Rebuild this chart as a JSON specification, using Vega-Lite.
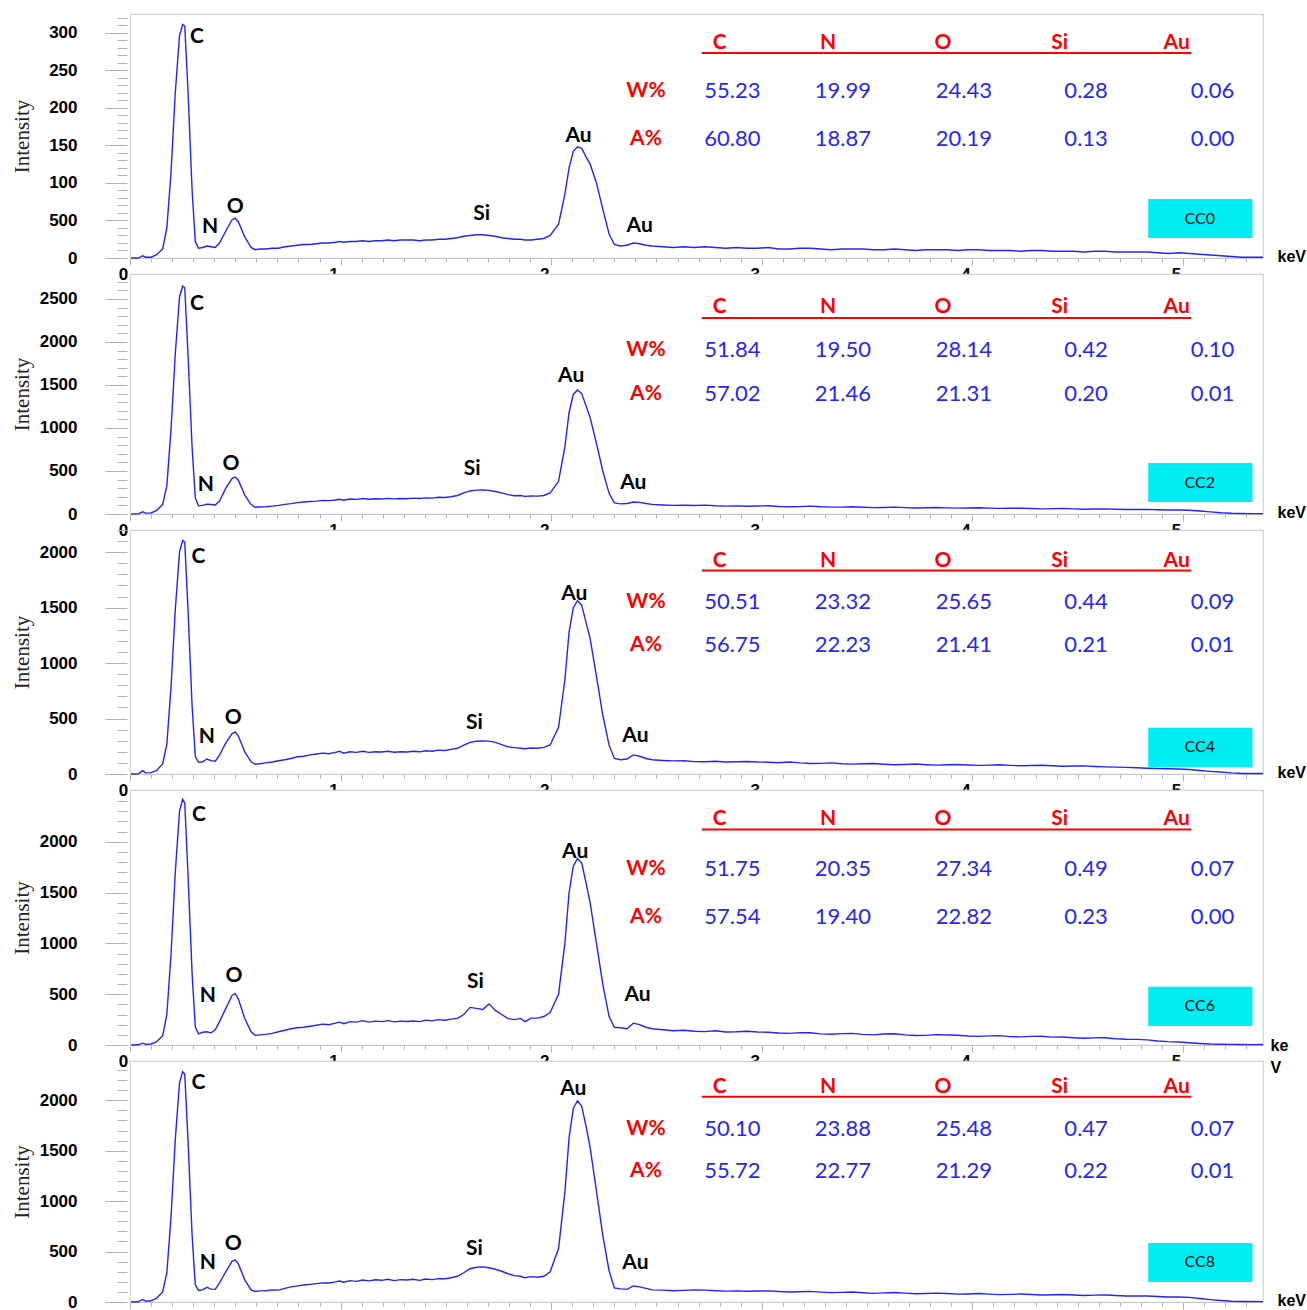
{
"$schema":"https://vega.github.io/schema/vega-lite/v6.json",
"background":"white",
"padding":{"left":10,"top":8,"right":0,"bottom":0},
"spacing":16,
"bounds":"flush",
"config":{"view":{"stroke":"#d2d2d2","strokeWidth":1.2,"fill":"white"},"axis":{"grid":false}},
"datasets":{
"spec":[
{"e":0.005,"cc0":0,"cc2":0,"cc4":0,"cc6":0,"cc8":0},
{"e":0.04,"cc0":0,"cc2":2,"cc4":2,"cc6":2,"cc8":2},
{"e":0.06,"cc0":3,"cc2":25,"cc4":30,"cc6":18,"cc8":25},
{"e":0.075,"cc0":1,"cc2":10,"cc4":10,"cc6":8,"cc8":8},
{"e":0.1,"cc0":1,"cc2":12,"cc4":12,"cc6":10,"cc8":12},
{"e":0.125,"cc0":4,"cc2":40,"cc4":30,"cc6":30,"cc8":35},
{"e":0.155,"cc0":12,"cc2":110,"cc4":90,"cc6":90,"cc8":100},
{"e":0.175,"cc0":40,"cc2":330,"cc4":270,"cc6":300,"cc8":290},
{"e":0.195,"cc0":115,"cc2":990,"cc4":790,"cc6":900,"cc8":850},
{"e":0.215,"cc0":220,"cc2":1860,"cc4":1480,"cc6":1700,"cc8":1610},
{"e":0.235,"cc0":296,"cc2":2520,"cc4":2000,"cc6":2300,"cc8":2170},
{"e":0.25,"cc0":311,"cc2":2651,"cc4":2105,"cc6":2420,"cc8":2284},
{"e":0.26,"cc0":309,"cc2":2630,"cc4":2090,"cc6":2380,"cc8":2260},
{"e":0.275,"cc0":225,"cc2":1880,"cc4":1500,"cc6":1700,"cc8":1620},
{"e":0.295,"cc0":90,"cc2":770,"cc4":610,"cc6":700,"cc8":660},
{"e":0.31,"cc0":22,"cc2":190,"cc4":160,"cc6":180,"cc8":170},
{"e":0.325,"cc0":13,"cc2":95,"cc4":105,"cc6":110,"cc8":115},
{"e":0.345,"cc0":14,"cc2":100,"cc4":110,"cc6":125,"cc8":120},
{"e":0.365,"cc0":16,"cc2":115,"cc4":135,"cc6":130,"cc8":145},
{"e":0.385,"cc0":15,"cc2":110,"cc4":120,"cc6":120,"cc8":128},
{"e":0.405,"cc0":14,"cc2":105,"cc4":115,"cc6":150,"cc8":125},
{"e":0.425,"cc0":20,"cc2":150,"cc4":170,"cc6":230,"cc8":190},
{"e":0.455,"cc0":36,"cc2":300,"cc4":280,"cc6":360,"cc8":300},
{"e":0.485,"cc0":51,"cc2":415,"cc4":365,"cc6":490,"cc8":405},
{"e":0.5,"cc0":53,"cc2":430,"cc4":380,"cc6":505,"cc8":417},
{"e":0.515,"cc0":48,"cc2":390,"cc4":340,"cc6":450,"cc8":375},
{"e":0.545,"cc0":28,"cc2":220,"cc4":200,"cc6":260,"cc8":220},
{"e":0.575,"cc0":14,"cc2":110,"cc4":110,"cc6":130,"cc8":120},
{"e":0.595,"cc0":11,"cc2":78,"cc4":88,"cc6":95,"cc8":105},
{"e":0.615,"cc0":12,"cc2":82,"cc4":92,"cc6":100,"cc8":110},
{"e":0.645,"cc0":12,"cc2":85,"cc4":100,"cc6":105,"cc8":112},
{"e":0.675,"cc0":13,"cc2":92,"cc4":108,"cc6":115,"cc8":120},
{"e":0.705,"cc0":13,"cc2":100,"cc4":120,"cc6":130,"cc8":118},
{"e":0.735,"cc0":15,"cc2":112,"cc4":128,"cc6":145,"cc8":135},
{"e":0.765,"cc0":16,"cc2":120,"cc4":140,"cc6":160,"cc8":150},
{"e":0.795,"cc0":17,"cc2":132,"cc4":155,"cc6":170,"cc8":160},
{"e":0.825,"cc0":18,"cc2":140,"cc4":160,"cc6":175,"cc8":168},
{"e":0.855,"cc0":18,"cc2":145,"cc4":172,"cc6":185,"cc8":175},
{"e":0.885,"cc0":19,"cc2":150,"cc4":180,"cc6":195,"cc8":182},
{"e":0.915,"cc0":20,"cc2":158,"cc4":188,"cc6":205,"cc8":190},
{"e":0.945,"cc0":20,"cc2":155,"cc4":183,"cc6":200,"cc8":188},
{"e":0.975,"cc0":21,"cc2":163,"cc4":195,"cc6":215,"cc8":199},
{"e":0.995,"cc0":22,"cc2":172,"cc4":205,"cc6":225,"cc8":208},
{"e":1.015,"cc0":21,"cc2":160,"cc4":188,"cc6":210,"cc8":196},
{"e":1.045,"cc0":22,"cc2":175,"cc4":200,"cc6":230,"cc8":212},
{"e":1.075,"cc0":22,"cc2":170,"cc4":195,"cc6":225,"cc8":205},
{"e":1.105,"cc0":23,"cc2":180,"cc4":205,"cc6":240,"cc8":218},
{"e":1.135,"cc0":22,"cc2":172,"cc4":195,"cc6":225,"cc8":210},
{"e":1.165,"cc0":23,"cc2":178,"cc4":200,"cc6":235,"cc8":220},
{"e":1.195,"cc0":23,"cc2":175,"cc4":198,"cc6":230,"cc8":215},
{"e":1.225,"cc0":24,"cc2":182,"cc4":205,"cc6":240,"cc8":225},
{"e":1.255,"cc0":23,"cc2":176,"cc4":196,"cc6":228,"cc8":212},
{"e":1.285,"cc0":24,"cc2":180,"cc4":200,"cc6":235,"cc8":222},
{"e":1.315,"cc0":24,"cc2":178,"cc4":198,"cc6":232,"cc8":218},
{"e":1.345,"cc0":24,"cc2":185,"cc4":205,"cc6":236,"cc8":225},
{"e":1.375,"cc0":23,"cc2":180,"cc4":200,"cc6":230,"cc8":215},
{"e":1.405,"cc0":24,"cc2":188,"cc4":210,"cc6":245,"cc8":228},
{"e":1.435,"cc0":24,"cc2":185,"cc4":205,"cc6":238,"cc8":222},
{"e":1.465,"cc0":25,"cc2":195,"cc4":215,"cc6":250,"cc8":232},
{"e":1.495,"cc0":25,"cc2":192,"cc4":212,"cc6":244,"cc8":230},
{"e":1.525,"cc0":26,"cc2":200,"cc4":222,"cc6":255,"cc8":240},
{"e":1.555,"cc0":27,"cc2":215,"cc4":232,"cc6":262,"cc8":255},
{"e":1.585,"cc0":29,"cc2":245,"cc4":260,"cc6":300,"cc8":290},
{"e":1.615,"cc0":30,"cc2":268,"cc4":285,"cc6":370,"cc8":330},
{"e":1.645,"cc0":31,"cc2":278,"cc4":295,"cc6":360,"cc8":345},
{"e":1.675,"cc0":31,"cc2":279,"cc4":298,"cc6":350,"cc8":348},
{"e":1.705,"cc0":30,"cc2":275,"cc4":296,"cc6":405,"cc8":340},
{"e":1.735,"cc0":29,"cc2":262,"cc4":285,"cc6":340,"cc8":325},
{"e":1.765,"cc0":27,"cc2":245,"cc4":265,"cc6":300,"cc8":305},
{"e":1.795,"cc0":26,"cc2":225,"cc4":245,"cc6":260,"cc8":280},
{"e":1.825,"cc0":25,"cc2":212,"cc4":238,"cc6":250,"cc8":262},
{"e":1.855,"cc0":25,"cc2":215,"cc4":232,"cc6":262,"cc8":255},
{"e":1.875,"cc0":24,"cc2":205,"cc4":228,"cc6":230,"cc8":240},
{"e":1.905,"cc0":24,"cc2":210,"cc4":235,"cc6":265,"cc8":252},
{"e":1.935,"cc0":25,"cc2":208,"cc4":232,"cc6":265,"cc8":245},
{"e":1.965,"cc0":26,"cc2":215,"cc4":240,"cc6":280,"cc8":255},
{"e":1.995,"cc0":30,"cc2":245,"cc4":262,"cc6":320,"cc8":300},
{"e":2.035,"cc0":45,"cc2":380,"cc4":420,"cc6":500,"cc8":530},
{"e":2.065,"cc0":85,"cc2":780,"cc4":850,"cc6":1000,"cc8":1090},
{"e":2.085,"cc0":120,"cc2":1180,"cc4":1280,"cc6":1500,"cc8":1630},
{"e":2.105,"cc0":142,"cc2":1390,"cc4":1500,"cc6":1760,"cc8":1920},
{"e":2.125,"cc0":148,"cc2":1442,"cc4":1563,"cc6":1836,"cc8":1996},
{"e":2.145,"cc0":146,"cc2":1400,"cc4":1520,"cc6":1790,"cc8":1940},
{"e":2.165,"cc0":135,"cc2":1260,"cc4":1370,"cc6":1600,"cc8":1750},
{"e":2.185,"cc0":125,"cc2":1120,"cc4":1220,"cc6":1400,"cc8":1530},
{"e":2.215,"cc0":100,"cc2":820,"cc4":880,"cc6":1000,"cc8":1100},
{"e":2.245,"cc0":65,"cc2":500,"cc4":530,"cc6":600,"cc8":660},
{"e":2.275,"cc0":32,"cc2":240,"cc4":260,"cc6":280,"cc8":310},
{"e":2.3,"cc0":18,"cc2":130,"cc4":140,"cc6":175,"cc8":140},
{"e":2.33,"cc0":16,"cc2":118,"cc4":128,"cc6":170,"cc8":130},
{"e":2.36,"cc0":17,"cc2":122,"cc4":135,"cc6":160,"cc8":125},
{"e":2.39,"cc0":20,"cc2":140,"cc4":172,"cc6":215,"cc8":159},
{"e":2.42,"cc0":19,"cc2":135,"cc4":160,"cc6":200,"cc8":150},
{"e":2.45,"cc0":17,"cc2":122,"cc4":140,"cc6":175,"cc8":135},
{"e":2.48,"cc0":16,"cc2":112,"cc4":128,"cc6":160,"cc8":120},
{"e":2.53,"cc0":15,"cc2":105,"cc4":122,"cc6":150,"cc8":118},
{"e":2.58,"cc0":14,"cc2":100,"cc4":118,"cc6":140,"cc8":112},
{"e":2.63,"cc0":15,"cc2":102,"cc4":120,"cc6":145,"cc8":115},
{"e":2.68,"cc0":14,"cc2":98,"cc4":112,"cc6":135,"cc8":120},
{"e":2.73,"cc0":15,"cc2":103,"cc4":110,"cc6":132,"cc8":118},
{"e":2.78,"cc0":14,"cc2":96,"cc4":115,"cc6":140,"cc8":112},
{"e":2.83,"cc0":13,"cc2":92,"cc4":108,"cc6":128,"cc8":108},
{"e":2.88,"cc0":14,"cc2":95,"cc4":110,"cc6":130,"cc8":110},
{"e":2.93,"cc0":13,"cc2":90,"cc4":113,"cc6":135,"cc8":106},
{"e":2.98,"cc0":13,"cc2":93,"cc4":108,"cc6":128,"cc8":109},
{"e":3.03,"cc0":14,"cc2":96,"cc4":106,"cc6":126,"cc8":110},
{"e":3.08,"cc0":12,"cc2":88,"cc4":102,"cc6":118,"cc8":104},
{"e":3.13,"cc0":12,"cc2":84,"cc4":108,"cc6":114,"cc8":99},
{"e":3.18,"cc0":13,"cc2":86,"cc4":100,"cc6":122,"cc8":102},
{"e":3.23,"cc0":13,"cc2":91,"cc4":95,"cc6":120,"cc8":105},
{"e":3.28,"cc0":12,"cc2":84,"cc4":96,"cc6":110,"cc8":98},
{"e":3.33,"cc0":11,"cc2":80,"cc4":100,"cc6":106,"cc8":93},
{"e":3.38,"cc0":12,"cc2":80,"cc4":93,"cc6":112,"cc8":95},
{"e":3.43,"cc0":12,"cc2":84,"cc4":89,"cc6":114,"cc8":99},
{"e":3.48,"cc0":12,"cc2":78,"cc4":92,"cc6":105,"cc8":92},
{"e":3.53,"cc0":11,"cc2":74,"cc4":94,"cc6":100,"cc8":86},
{"e":3.58,"cc0":11,"cc2":76,"cc4":88,"cc6":108,"cc8":90},
{"e":3.63,"cc0":12,"cc2":80,"cc4":84,"cc6":110,"cc8":94},
{"e":3.68,"cc0":11,"cc2":74,"cc4":86,"cc6":100,"cc8":88},
{"e":3.73,"cc0":10,"cc2":70,"cc4":90,"cc6":93,"cc8":82},
{"e":3.78,"cc0":11,"cc2":72,"cc4":84,"cc6":95,"cc8":85},
{"e":3.83,"cc0":11,"cc2":76,"cc4":80,"cc6":102,"cc8":88},
{"e":3.88,"cc0":11,"cc2":71,"cc4":83,"cc6":98,"cc8":84},
{"e":3.93,"cc0":10,"cc2":68,"cc4":86,"cc6":96,"cc8":78},
{"e":3.98,"cc0":11,"cc2":70,"cc4":81,"cc6":89,"cc8":80},
{"e":4.03,"cc0":11,"cc2":73,"cc4":78,"cc6":85,"cc8":84},
{"e":4.08,"cc0":10,"cc2":68,"cc4":80,"cc6":90,"cc8":78},
{"e":4.13,"cc0":10,"cc2":65,"cc4":83,"cc6":92,"cc8":73},
{"e":4.18,"cc0":10,"cc2":66,"cc4":78,"cc6":82,"cc8":76},
{"e":4.23,"cc0":9,"cc2":68,"cc4":74,"cc6":80,"cc8":79},
{"e":4.28,"cc0":10,"cc2":64,"cc4":76,"cc6":85,"cc8":75},
{"e":4.33,"cc0":10,"cc2":60,"cc4":79,"cc6":86,"cc8":70},
{"e":4.38,"cc0":9,"cc2":62,"cc4":74,"cc6":78,"cc8":72},
{"e":4.43,"cc0":9,"cc2":65,"cc4":70,"cc6":79,"cc8":74},
{"e":4.48,"cc0":9,"cc2":60,"cc4":72,"cc6":72,"cc8":70},
{"e":4.53,"cc0":8,"cc2":56,"cc4":73,"cc6":66,"cc8":65},
{"e":4.58,"cc0":9,"cc2":58,"cc4":68,"cc6":70,"cc8":68},
{"e":4.63,"cc0":9,"cc2":60,"cc4":64,"cc6":72,"cc8":70},
{"e":4.68,"cc0":8,"cc2":56,"cc4":62,"cc6":62,"cc8":65},
{"e":4.73,"cc0":8,"cc2":52,"cc4":60,"cc6":56,"cc8":59},
{"e":4.78,"cc0":8,"cc2":53,"cc4":56,"cc6":55,"cc8":60},
{"e":4.83,"cc0":8,"cc2":54,"cc4":52,"cc6":50,"cc8":60},
{"e":4.88,"cc0":7,"cc2":50,"cc4":50,"cc6":40,"cc8":55},
{"e":4.93,"cc0":6,"cc2":47,"cc4":48,"cc6":33,"cc8":50},
{"e":4.98,"cc0":7,"cc2":47,"cc4":45,"cc6":30,"cc8":50},
{"e":5.03,"cc0":6,"cc2":44,"cc4":40,"cc6":22,"cc8":46},
{"e":5.08,"cc0":5,"cc2":35,"cc4":32,"cc6":15,"cc8":35},
{"e":5.13,"cc0":4,"cc2":25,"cc4":24,"cc6":10,"cc8":24},
{"e":5.18,"cc0":3,"cc2":15,"cc4":18,"cc6":8,"cc8":15},
{"e":5.23,"cc0":2,"cc2":8,"cc4":10,"cc6":6,"cc8":8},
{"e":5.28,"cc0":1,"cc2":5,"cc4":5,"cc6":5,"cc8":5},
{"e":5.33,"cc0":1,"cc2":4,"cc4":5,"cc6":4,"cc8":5},
{"e":5.38,"cc0":1,"cc2":4,"cc4":4,"cc6":5,"cc8":4}
],
"pk":[
{"p":"CC0","t":"C","e":0.318,"v":294},{"p":"CC0","t":"N","e":0.38,"v":41},{"p":"CC0","t":"O","e":0.5,"v":68},{"p":"CC0","t":"Si","e":1.67,"v":58},{"p":"CC0","t":"Au","e":2.13,"v":162},{"p":"CC0","t":"Au","e":2.42,"v":43},
{"p":"CC2","t":"C","e":0.318,"v":2442},{"p":"CC2","t":"N","e":0.36,"v":337},{"p":"CC2","t":"O","e":0.48,"v":581},{"p":"CC2","t":"Si","e":1.625,"v":523},{"p":"CC2","t":"Au","e":2.095,"v":1605},{"p":"CC2","t":"Au","e":2.39,"v":360},
{"p":"CC4","t":"C","e":0.325,"v":1960},{"p":"CC4","t":"N","e":0.365,"v":334},{"p":"CC4","t":"O","e":0.49,"v":506},{"p":"CC4","t":"Si","e":1.635,"v":461},{"p":"CC4","t":"Au","e":2.11,"v":1626},{"p":"CC4","t":"Au","e":2.4,"v":343},
{"p":"CC6","t":"C","e":0.328,"v":2260},{"p":"CC6","t":"N","e":0.37,"v":484},{"p":"CC6","t":"O","e":0.494,"v":681},{"p":"CC6","t":"Si","e":1.64,"v":622},{"p":"CC6","t":"Au","e":2.114,"v":1895},{"p":"CC6","t":"Au","e":2.41,"v":494},
{"p":"CC8","t":"C","e":0.325,"v":2175},{"p":"CC8","t":"N","e":0.37,"v":387},{"p":"CC8","t":"O","e":0.49,"v":576},{"p":"CC8","t":"Si","e":1.635,"v":526},{"p":"CC8","t":"Au","e":2.105,"v":2115},{"p":"CC8","t":"Au","e":2.4,"v":387}
],
"boxes":[
{"p":"CC0","e1":4.835,"e2":5.33,"v1":26.6,"v2":78.5,"em":5.08,"vm":52.5},
{"p":"CC2","e1":4.835,"e2":5.33,"v1":140,"v2":593,"em":5.08,"vm":366},
{"p":"CC4","e1":4.835,"e2":5.33,"v1":63,"v2":416,"em":5.08,"vm":240},
{"p":"CC6","e1":4.835,"e2":5.33,"v1":188,"v2":573,"em":5.08,"vm":380},
{"p":"CC8","e1":4.835,"e2":5.33,"v1":199,"v2":586,"em":5.08,"vm":392}
],
"lines":[
{"p":"CC0","e1":2.715,"e2":5.04,"v":273},
{"p":"CC2","e1":2.715,"e2":5.04,"v":2279},
{"p":"CC4","e1":2.715,"e2":5.04,"v":1834},
{"p":"CC6","e1":2.715,"e2":5.04,"v":2122},
{"p":"CC8","e1":2.715,"e2":5.04,"v":2036}
],
"tab":[
{"p":"CC0","k":"h","t":"C","e":2.8,"v":286},{"p":"CC0","k":"h","t":"N","e":3.315,"v":286},{"p":"CC0","k":"h","t":"O","e":3.86,"v":286},{"p":"CC0","k":"h","t":"Si","e":4.415,"v":286},{"p":"CC0","k":"h","t":"Au","e":4.97,"v":286},
{"p":"CC0","k":"r","t":"W%","e":2.45,"v":222},{"p":"CC0","k":"r","t":"A%","e":2.45,"v":158},
{"p":"CC0","k":"n","t":"55.23","e":2.86,"v":222},{"p":"CC0","k":"n","t":"19.99","e":3.385,"v":222},{"p":"CC0","k":"n","t":"24.43","e":3.96,"v":222},{"p":"CC0","k":"n","t":"0.28","e":4.54,"v":222},{"p":"CC0","k":"n","t":"0.06","e":5.14,"v":222},
{"p":"CC0","k":"n","t":"60.80","e":2.86,"v":158},{"p":"CC0","k":"n","t":"18.87","e":3.385,"v":158},{"p":"CC0","k":"n","t":"20.19","e":3.96,"v":158},{"p":"CC0","k":"n","t":"0.13","e":4.54,"v":158},{"p":"CC0","k":"n","t":"0.00","e":5.14,"v":158},
{"p":"CC2","k":"h","t":"C","e":2.8,"v":2407},{"p":"CC2","k":"h","t":"N","e":3.315,"v":2407},{"p":"CC2","k":"h","t":"O","e":3.86,"v":2407},{"p":"CC2","k":"h","t":"Si","e":4.415,"v":2407},{"p":"CC2","k":"h","t":"Au","e":4.97,"v":2407},
{"p":"CC2","k":"r","t":"W%","e":2.45,"v":1907},{"p":"CC2","k":"r","t":"A%","e":2.45,"v":1395},
{"p":"CC2","k":"n","t":"51.84","e":2.86,"v":1907},{"p":"CC2","k":"n","t":"19.50","e":3.385,"v":1907},{"p":"CC2","k":"n","t":"28.14","e":3.96,"v":1907},{"p":"CC2","k":"n","t":"0.42","e":4.54,"v":1907},{"p":"CC2","k":"n","t":"0.10","e":5.14,"v":1907},
{"p":"CC2","k":"n","t":"57.02","e":2.86,"v":1395},{"p":"CC2","k":"n","t":"21.46","e":3.385,"v":1395},{"p":"CC2","k":"n","t":"21.31","e":3.96,"v":1395},{"p":"CC2","k":"n","t":"0.20","e":4.54,"v":1395},{"p":"CC2","k":"n","t":"0.01","e":5.14,"v":1395},
{"p":"CC4","k":"h","t":"C","e":2.8,"v":1924},{"p":"CC4","k":"h","t":"N","e":3.315,"v":1924},{"p":"CC4","k":"h","t":"O","e":3.86,"v":1924},{"p":"CC4","k":"h","t":"Si","e":4.415,"v":1924},{"p":"CC4","k":"h","t":"Au","e":4.97,"v":1924},
{"p":"CC4","k":"r","t":"W%","e":2.45,"v":1554},{"p":"CC4","k":"r","t":"A%","e":2.45,"v":1165},
{"p":"CC4","k":"n","t":"50.51","e":2.86,"v":1554},{"p":"CC4","k":"n","t":"23.32","e":3.385,"v":1554},{"p":"CC4","k":"n","t":"25.65","e":3.96,"v":1554},{"p":"CC4","k":"n","t":"0.44","e":4.54,"v":1554},{"p":"CC4","k":"n","t":"0.09","e":5.14,"v":1554},
{"p":"CC4","k":"n","t":"56.75","e":2.86,"v":1165},{"p":"CC4","k":"n","t":"22.23","e":3.385,"v":1165},{"p":"CC4","k":"n","t":"21.41","e":3.96,"v":1165},{"p":"CC4","k":"n","t":"0.21","e":4.54,"v":1165},{"p":"CC4","k":"n","t":"0.01","e":5.14,"v":1165},
{"p":"CC6","k":"h","t":"C","e":2.8,"v":2221},{"p":"CC6","k":"h","t":"N","e":3.315,"v":2221},{"p":"CC6","k":"h","t":"O","e":3.86,"v":2221},{"p":"CC6","k":"h","t":"Si","e":4.415,"v":2221},{"p":"CC6","k":"h","t":"Au","e":4.97,"v":2221},
{"p":"CC6","k":"r","t":"W%","e":2.45,"v":1737},{"p":"CC6","k":"r","t":"A%","e":2.45,"v":1264},
{"p":"CC6","k":"n","t":"51.75","e":2.86,"v":1737},{"p":"CC6","k":"n","t":"20.35","e":3.385,"v":1737},{"p":"CC6","k":"n","t":"27.34","e":3.96,"v":1737},{"p":"CC6","k":"n","t":"0.49","e":4.54,"v":1737},{"p":"CC6","k":"n","t":"0.07","e":5.14,"v":1737},
{"p":"CC6","k":"n","t":"57.54","e":2.86,"v":1264},{"p":"CC6","k":"n","t":"19.40","e":3.385,"v":1264},{"p":"CC6","k":"n","t":"22.82","e":3.96,"v":1264},{"p":"CC6","k":"n","t":"0.23","e":4.54,"v":1264},{"p":"CC6","k":"n","t":"0.00","e":5.14,"v":1264},
{"p":"CC8","k":"h","t":"C","e":2.8,"v":2135},{"p":"CC8","k":"h","t":"N","e":3.315,"v":2135},{"p":"CC8","k":"h","t":"O","e":3.86,"v":2135},{"p":"CC8","k":"h","t":"Si","e":4.415,"v":2135},{"p":"CC8","k":"h","t":"Au","e":4.97,"v":2135},
{"p":"CC8","k":"r","t":"W%","e":2.45,"v":1718},{"p":"CC8","k":"r","t":"A%","e":2.45,"v":1301},
{"p":"CC8","k":"n","t":"50.10","e":2.86,"v":1718},{"p":"CC8","k":"n","t":"23.88","e":3.385,"v":1718},{"p":"CC8","k":"n","t":"25.48","e":3.96,"v":1718},{"p":"CC8","k":"n","t":"0.47","e":4.54,"v":1718},{"p":"CC8","k":"n","t":"0.07","e":5.14,"v":1718},
{"p":"CC8","k":"n","t":"55.72","e":2.86,"v":1301},{"p":"CC8","k":"n","t":"22.77","e":3.385,"v":1301},{"p":"CC8","k":"n","t":"21.29","e":3.96,"v":1301},{"p":"CC8","k":"n","t":"0.22","e":4.54,"v":1301},{"p":"CC8","k":"n","t":"0.01","e":5.14,"v":1301}
]
},
"vconcat":[
{"width":1133,"height":244,"resolve":{"axis":{"x":"independent","y":"independent"}},"layer":[
{"data":{"name":"spec"},"mark":{"type":"line","color":"#2323ff","strokeWidth":1.4},"encoding":{
"x":{"field":"e","type":"quantitative","scale":{"domain":[0,5.38],"nice":false,"zero":false},"axis":{"values":[0,0.1,0.2,0.3,0.4,0.5,0.6,0.7,0.8,0.9,1,1.1,1.2,1.3,1.4,1.5,1.6,1.7,1.8,1.9,2,2.1,2.2,2.3,2.4,2.5,2.6,2.7,2.8,2.9,3,3.1,3.2,3.3,3.4,3.5,3.6,3.7,3.8,3.9,4,4.1,4.2,4.3,4.4,4.5,4.6,4.7,4.8,4.9,5,5.1,5.2,5.3],"labelExpr":"abs(datum.value-round(datum.value))<0.001 ? format(datum.value,'d') : ''","tickSize":{"condition":{"test":"abs(datum.value-round(datum.value))<0.001","value":7},"value":4},"tickColor":"#b4b4b4","domainColor":"#c8c8c8","labelOffset":-7,"labelPadding":1,"labelFont":"Liberation Sans","labelFontWeight":"bold","labelFontSize":17,"labelColor":"#000000","labelOverlap":false,"labelFlush":false,"title":"keV","titleX":1147,"titleY":-2,"titleAlign":"left","titleBaseline":"middle","titleAngle":0,"titleFont":"Liberation Sans","titleFontWeight":"bold","titleFontSize":16,"titleColor":"#000000"}},
"y":{"field":"cc0","type":"quantitative","scale":{"domain":[0,325],"nice":false,"zero":false},"axis":{"values":[0,10,20,30,40,50,60,70,80,90,100,110,120,130,140,150,160,170,180,190,200,210,220,230,240,250,260,270,280,290,300,310,320],"format":"d","labelExpr":"datum.value % 50 == 0 ? (datum.value == 50 ? '500' : datum.label) : ''","tickSize":{"condition":{"test":"datum.value % 50 == 0","value":22},"value":10},"tickColor":"#b8b0b0","offset":3,"domain":false,"labelFont":"Liberation Sans","labelFontWeight":"bold","labelFontSize":17,"labelColor":"#000000","labelPadding":28,"labelOverlap":false,"title":"Intensity","titleFont":"Liberation Serif","titleFontSize":21,"titleFontWeight":"normal","titleColor":"#2a2222","titleX":-95}}}},
{"data":{"name":"boxes"},"transform":[{"filter":"datum.p=='CC0'"}],"mark":{"type":"rect","color":"#00edf3"},"encoding":{"x":{"field":"e1","type":"quantitative","scale":{"domain":[0,5.38],"nice":false,"zero":false},"axis":null},"x2":{"field":"e2"},"y":{"field":"v1","type":"quantitative","scale":{"domain":[0,325],"nice":false,"zero":false},"axis":null},"y2":{"field":"v2"}}},
{"data":{"name":"boxes"},"transform":[{"filter":"datum.p=='CC0'"}],"mark":{"type":"text","font":"Lato","fontSize":16,"color":"#111111"},"encoding":{"x":{"field":"em","type":"quantitative","scale":{"domain":[0,5.38],"nice":false,"zero":false},"axis":null},"y":{"field":"vm","type":"quantitative","scale":{"domain":[0,325],"nice":false,"zero":false},"axis":null},"text":{"field":"p"}}},
{"data":{"name":"lines"},"transform":[{"filter":"datum.p=='CC0'"}],"mark":{"type":"rule","color":"#ff0000","strokeWidth":2},"encoding":{"x":{"field":"e1","type":"quantitative","scale":{"domain":[0,5.38],"nice":false,"zero":false},"axis":null},"x2":{"field":"e2"},"y":{"field":"v","type":"quantitative","scale":{"domain":[0,325],"nice":false,"zero":false},"axis":null}}},
{"data":{"name":"tab"},"transform":[{"filter":"datum.p=='CC0' && datum.k!='n'"}],"mark":{"type":"text","font":"Lato","fontWeight":"bold","fontSize":21,"color":"#ff0000"},"encoding":{"x":{"field":"e","type":"quantitative","scale":{"domain":[0,5.38],"nice":false,"zero":false},"axis":null},"y":{"field":"v","type":"quantitative","scale":{"domain":[0,325],"nice":false,"zero":false},"axis":null},"text":{"field":"t"}}},
{"data":{"name":"tab"},"transform":[{"filter":"datum.p=='CC0' && datum.k=='n'"}],"mark":{"type":"text","font":"Lato","fontSize":22,"color":"#2525ff"},"encoding":{"x":{"field":"e","type":"quantitative","scale":{"domain":[0,5.38],"nice":false,"zero":false},"axis":null},"y":{"field":"v","type":"quantitative","scale":{"domain":[0,325],"nice":false,"zero":false},"axis":null},"text":{"field":"t"}}},
{"data":{"name":"pk"},"transform":[{"filter":"datum.p=='CC0'"}],"mark":{"type":"text","font":"Lato","fontWeight":"bold","fontSize":21,"color":"#000000"},"encoding":{"x":{"field":"e","type":"quantitative","scale":{"domain":[0,5.38],"nice":false,"zero":false},"axis":null},"y":{"field":"v","type":"quantitative","scale":{"domain":[0,325],"nice":false,"zero":false},"axis":null},"text":{"field":"t"}}}
]},
{"width":1133,"height":240,"resolve":{"axis":{"x":"independent","y":"independent"}},"layer":[
{"data":{"name":"spec"},"mark":{"type":"line","color":"#2323ff","strokeWidth":1.4},"encoding":{
"x":{"field":"e","type":"quantitative","scale":{"domain":[0,5.38],"nice":false,"zero":false},"axis":{"values":[0,0.1,0.2,0.3,0.4,0.5,0.6,0.7,0.8,0.9,1,1.1,1.2,1.3,1.4,1.5,1.6,1.7,1.8,1.9,2,2.1,2.2,2.3,2.4,2.5,2.6,2.7,2.8,2.9,3,3.1,3.2,3.3,3.4,3.5,3.6,3.7,3.8,3.9,4,4.1,4.2,4.3,4.4,4.5,4.6,4.7,4.8,4.9,5,5.1,5.2,5.3],"labelExpr":"abs(datum.value-round(datum.value))<0.001 ? format(datum.value,'d') : ''","tickSize":{"condition":{"test":"abs(datum.value-round(datum.value))<0.001","value":7},"value":4},"tickColor":"#b4b4b4","domainColor":"#c8c8c8","labelOffset":-7,"labelPadding":1,"labelFont":"Liberation Sans","labelFontWeight":"bold","labelFontSize":17,"labelColor":"#000000","labelOverlap":false,"labelFlush":false,"title":"keV","titleX":1147,"titleY":-2,"titleAlign":"left","titleBaseline":"middle","titleAngle":0,"titleFont":"Liberation Sans","titleFontWeight":"bold","titleFontSize":16,"titleColor":"#000000"}},
"y":{"field":"cc2","type":"quantitative","scale":{"domain":[0,2790],"nice":false,"zero":false},"axis":{"values":[0,100,200,300,400,500,600,700,800,900,1000,1100,1200,1300,1400,1500,1600,1700,1800,1900,2000,2100,2200,2300,2400,2500,2600,2700],"format":"d","labelExpr":"datum.value % 500 == 0 ? datum.label : ''","tickSize":{"condition":{"test":"datum.value % 500 == 0","value":22},"value":10},"tickColor":"#b8b0b0","offset":3,"domain":false,"labelFont":"Liberation Sans","labelFontWeight":"bold","labelFontSize":17,"labelColor":"#000000","labelPadding":28,"labelOverlap":false,"title":"Intensity","titleFont":"Liberation Serif","titleFontSize":21,"titleFontWeight":"normal","titleColor":"#2a2222","titleX":-95}}}},
{"data":{"name":"boxes"},"transform":[{"filter":"datum.p=='CC2'"}],"mark":{"type":"rect","color":"#00edf3"},"encoding":{"x":{"field":"e1","type":"quantitative","scale":{"domain":[0,5.38],"nice":false,"zero":false},"axis":null},"x2":{"field":"e2"},"y":{"field":"v1","type":"quantitative","scale":{"domain":[0,2790],"nice":false,"zero":false},"axis":null},"y2":{"field":"v2"}}},
{"data":{"name":"boxes"},"transform":[{"filter":"datum.p=='CC2'"}],"mark":{"type":"text","font":"Lato","fontSize":16,"color":"#111111"},"encoding":{"x":{"field":"em","type":"quantitative","scale":{"domain":[0,5.38],"nice":false,"zero":false},"axis":null},"y":{"field":"vm","type":"quantitative","scale":{"domain":[0,2790],"nice":false,"zero":false},"axis":null},"text":{"field":"p"}}},
{"data":{"name":"lines"},"transform":[{"filter":"datum.p=='CC2'"}],"mark":{"type":"rule","color":"#ff0000","strokeWidth":2},"encoding":{"x":{"field":"e1","type":"quantitative","scale":{"domain":[0,5.38],"nice":false,"zero":false},"axis":null},"x2":{"field":"e2"},"y":{"field":"v","type":"quantitative","scale":{"domain":[0,2790],"nice":false,"zero":false},"axis":null}}},
{"data":{"name":"tab"},"transform":[{"filter":"datum.p=='CC2' && datum.k!='n'"}],"mark":{"type":"text","font":"Lato","fontWeight":"bold","fontSize":21,"color":"#ff0000"},"encoding":{"x":{"field":"e","type":"quantitative","scale":{"domain":[0,5.38],"nice":false,"zero":false},"axis":null},"y":{"field":"v","type":"quantitative","scale":{"domain":[0,2790],"nice":false,"zero":false},"axis":null},"text":{"field":"t"}}},
{"data":{"name":"tab"},"transform":[{"filter":"datum.p=='CC2' && datum.k=='n'"}],"mark":{"type":"text","font":"Lato","fontSize":22,"color":"#2525ff"},"encoding":{"x":{"field":"e","type":"quantitative","scale":{"domain":[0,5.38],"nice":false,"zero":false},"axis":null},"y":{"field":"v","type":"quantitative","scale":{"domain":[0,2790],"nice":false,"zero":false},"axis":null},"text":{"field":"t"}}},
{"data":{"name":"pk"},"transform":[{"filter":"datum.p=='CC2'"}],"mark":{"type":"text","font":"Lato","fontWeight":"bold","fontSize":21,"color":"#000000"},"encoding":{"x":{"field":"e","type":"quantitative","scale":{"domain":[0,5.38],"nice":false,"zero":false},"axis":null},"y":{"field":"v","type":"quantitative","scale":{"domain":[0,2790],"nice":false,"zero":false},"axis":null},"text":{"field":"t"}}}
]},
{"width":1133,"height":244,"resolve":{"axis":{"x":"independent","y":"independent"}},"layer":[
{"data":{"name":"spec"},"mark":{"type":"line","color":"#2323ff","strokeWidth":1.4},"encoding":{
"x":{"field":"e","type":"quantitative","scale":{"domain":[0,5.38],"nice":false,"zero":false},"axis":{"values":[0,0.1,0.2,0.3,0.4,0.5,0.6,0.7,0.8,0.9,1,1.1,1.2,1.3,1.4,1.5,1.6,1.7,1.8,1.9,2,2.1,2.2,2.3,2.4,2.5,2.6,2.7,2.8,2.9,3,3.1,3.2,3.3,3.4,3.5,3.6,3.7,3.8,3.9,4,4.1,4.2,4.3,4.4,4.5,4.6,4.7,4.8,4.9,5,5.1,5.2,5.3],"labelExpr":"abs(datum.value-round(datum.value))<0.001 ? format(datum.value,'d') : ''","tickSize":{"condition":{"test":"abs(datum.value-round(datum.value))<0.001","value":7},"value":4},"tickColor":"#b4b4b4","domainColor":"#c8c8c8","labelOffset":-7,"labelPadding":1,"labelFont":"Liberation Sans","labelFontWeight":"bold","labelFontSize":17,"labelColor":"#000000","labelOverlap":false,"labelFlush":false,"title":"keV","titleX":1147,"titleY":-2,"titleAlign":"left","titleBaseline":"middle","titleAngle":0,"titleFont":"Liberation Sans","titleFontWeight":"bold","titleFontSize":16,"titleColor":"#000000"}},
"y":{"field":"cc4","type":"quantitative","scale":{"domain":[0,2200],"nice":false,"zero":false},"axis":{"values":[0,100,200,300,400,500,600,700,800,900,1000,1100,1200,1300,1400,1500,1600,1700,1800,1900,2000,2100,2200],"format":"d","labelExpr":"datum.value % 500 == 0 ? datum.label : ''","tickSize":{"condition":{"test":"datum.value % 500 == 0","value":22},"value":10},"tickColor":"#b8b0b0","offset":3,"domain":false,"labelFont":"Liberation Sans","labelFontWeight":"bold","labelFontSize":17,"labelColor":"#000000","labelPadding":28,"labelOverlap":false,"title":"Intensity","titleFont":"Liberation Serif","titleFontSize":21,"titleFontWeight":"normal","titleColor":"#2a2222","titleX":-95}}}},
{"data":{"name":"boxes"},"transform":[{"filter":"datum.p=='CC4'"}],"mark":{"type":"rect","color":"#00edf3"},"encoding":{"x":{"field":"e1","type":"quantitative","scale":{"domain":[0,5.38],"nice":false,"zero":false},"axis":null},"x2":{"field":"e2"},"y":{"field":"v1","type":"quantitative","scale":{"domain":[0,2200],"nice":false,"zero":false},"axis":null},"y2":{"field":"v2"}}},
{"data":{"name":"boxes"},"transform":[{"filter":"datum.p=='CC4'"}],"mark":{"type":"text","font":"Lato","fontSize":16,"color":"#111111"},"encoding":{"x":{"field":"em","type":"quantitative","scale":{"domain":[0,5.38],"nice":false,"zero":false},"axis":null},"y":{"field":"vm","type":"quantitative","scale":{"domain":[0,2200],"nice":false,"zero":false},"axis":null},"text":{"field":"p"}}},
{"data":{"name":"lines"},"transform":[{"filter":"datum.p=='CC4'"}],"mark":{"type":"rule","color":"#ff0000","strokeWidth":2},"encoding":{"x":{"field":"e1","type":"quantitative","scale":{"domain":[0,5.38],"nice":false,"zero":false},"axis":null},"x2":{"field":"e2"},"y":{"field":"v","type":"quantitative","scale":{"domain":[0,2200],"nice":false,"zero":false},"axis":null}}},
{"data":{"name":"tab"},"transform":[{"filter":"datum.p=='CC4' && datum.k!='n'"}],"mark":{"type":"text","font":"Lato","fontWeight":"bold","fontSize":21,"color":"#ff0000"},"encoding":{"x":{"field":"e","type":"quantitative","scale":{"domain":[0,5.38],"nice":false,"zero":false},"axis":null},"y":{"field":"v","type":"quantitative","scale":{"domain":[0,2200],"nice":false,"zero":false},"axis":null},"text":{"field":"t"}}},
{"data":{"name":"tab"},"transform":[{"filter":"datum.p=='CC4' && datum.k=='n'"}],"mark":{"type":"text","font":"Lato","fontSize":22,"color":"#2525ff"},"encoding":{"x":{"field":"e","type":"quantitative","scale":{"domain":[0,5.38],"nice":false,"zero":false},"axis":null},"y":{"field":"v","type":"quantitative","scale":{"domain":[0,2200],"nice":false,"zero":false},"axis":null},"text":{"field":"t"}}},
{"data":{"name":"pk"},"transform":[{"filter":"datum.p=='CC4'"}],"mark":{"type":"text","font":"Lato","fontWeight":"bold","fontSize":21,"color":"#000000"},"encoding":{"x":{"field":"e","type":"quantitative","scale":{"domain":[0,5.38],"nice":false,"zero":false},"axis":null},"y":{"field":"v","type":"quantitative","scale":{"domain":[0,2200],"nice":false,"zero":false},"axis":null},"text":{"field":"t"}}}
]},
{"width":1133,"height":255,"resolve":{"axis":{"x":"independent","y":"independent"}},"layer":[
{"data":{"name":"spec"},"mark":{"type":"line","color":"#2323ff","strokeWidth":1.4},"encoding":{
"x":{"field":"e","type":"quantitative","scale":{"domain":[0,5.38],"nice":false,"zero":false},"axis":{"values":[0,0.1,0.2,0.3,0.4,0.5,0.6,0.7,0.8,0.9,1,1.1,1.2,1.3,1.4,1.5,1.6,1.7,1.8,1.9,2,2.1,2.2,2.3,2.4,2.5,2.6,2.7,2.8,2.9,3,3.1,3.2,3.3,3.4,3.5,3.6,3.7,3.8,3.9,4,4.1,4.2,4.3,4.4,4.5,4.6,4.7,4.8,4.9,5,5.1,5.2,5.3],"labelExpr":"abs(datum.value-round(datum.value))<0.001 ? format(datum.value,'d') : ''","tickSize":{"condition":{"test":"abs(datum.value-round(datum.value))<0.001","value":7},"value":4},"tickColor":"#b4b4b4","domainColor":"#c8c8c8","labelOffset":-7,"labelPadding":1,"labelFont":"Liberation Sans","labelFontWeight":"bold","labelFontSize":17,"labelColor":"#000000","labelOverlap":false,"labelFlush":false,"title":["ke","V"],"titleX":1140,"titleY":0,"titleLineHeight":22,"titleAlign":"left","titleBaseline":"middle","titleAngle":0,"titleFont":"Liberation Sans","titleFontWeight":"bold","titleFontSize":16,"titleColor":"#000000"}},
"y":{"field":"cc6","type":"quantitative","scale":{"domain":[0,2510],"nice":false,"zero":false},"axis":{"values":[0,100,200,300,400,500,600,700,800,900,1000,1100,1200,1300,1400,1500,1600,1700,1800,1900,2000,2100,2200,2300,2400],"format":"d","labelExpr":"datum.value % 500 == 0 ? datum.label : ''","tickSize":{"condition":{"test":"datum.value % 500 == 0","value":22},"value":10},"tickColor":"#b8b0b0","offset":3,"domain":false,"labelFont":"Liberation Sans","labelFontWeight":"bold","labelFontSize":17,"labelColor":"#000000","labelPadding":28,"labelOverlap":false,"title":"Intensity","titleFont":"Liberation Serif","titleFontSize":21,"titleFontWeight":"normal","titleColor":"#2a2222","titleX":-95}}}},
{"data":{"name":"boxes"},"transform":[{"filter":"datum.p=='CC6'"}],"mark":{"type":"rect","color":"#00edf3"},"encoding":{"x":{"field":"e1","type":"quantitative","scale":{"domain":[0,5.38],"nice":false,"zero":false},"axis":null},"x2":{"field":"e2"},"y":{"field":"v1","type":"quantitative","scale":{"domain":[0,2510],"nice":false,"zero":false},"axis":null},"y2":{"field":"v2"}}},
{"data":{"name":"boxes"},"transform":[{"filter":"datum.p=='CC6'"}],"mark":{"type":"text","font":"Lato","fontSize":16,"color":"#111111"},"encoding":{"x":{"field":"em","type":"quantitative","scale":{"domain":[0,5.38],"nice":false,"zero":false},"axis":null},"y":{"field":"vm","type":"quantitative","scale":{"domain":[0,2510],"nice":false,"zero":false},"axis":null},"text":{"field":"p"}}},
{"data":{"name":"lines"},"transform":[{"filter":"datum.p=='CC6'"}],"mark":{"type":"rule","color":"#ff0000","strokeWidth":2},"encoding":{"x":{"field":"e1","type":"quantitative","scale":{"domain":[0,5.38],"nice":false,"zero":false},"axis":null},"x2":{"field":"e2"},"y":{"field":"v","type":"quantitative","scale":{"domain":[0,2510],"nice":false,"zero":false},"axis":null}}},
{"data":{"name":"tab"},"transform":[{"filter":"datum.p=='CC6' && datum.k!='n'"}],"mark":{"type":"text","font":"Lato","fontWeight":"bold","fontSize":21,"color":"#ff0000"},"encoding":{"x":{"field":"e","type":"quantitative","scale":{"domain":[0,5.38],"nice":false,"zero":false},"axis":null},"y":{"field":"v","type":"quantitative","scale":{"domain":[0,2510],"nice":false,"zero":false},"axis":null},"text":{"field":"t"}}},
{"data":{"name":"tab"},"transform":[{"filter":"datum.p=='CC6' && datum.k=='n'"}],"mark":{"type":"text","font":"Lato","fontSize":22,"color":"#2525ff"},"encoding":{"x":{"field":"e","type":"quantitative","scale":{"domain":[0,5.38],"nice":false,"zero":false},"axis":null},"y":{"field":"v","type":"quantitative","scale":{"domain":[0,2510],"nice":false,"zero":false},"axis":null},"text":{"field":"t"}}},
{"data":{"name":"pk"},"transform":[{"filter":"datum.p=='CC6'"}],"mark":{"type":"text","font":"Lato","fontWeight":"bold","fontSize":21,"color":"#000000"},"encoding":{"x":{"field":"e","type":"quantitative","scale":{"domain":[0,5.38],"nice":false,"zero":false},"axis":null},"y":{"field":"v","type":"quantitative","scale":{"domain":[0,2510],"nice":false,"zero":false},"axis":null},"text":{"field":"t"}}}
]},
{"width":1133,"height":241,"resolve":{"axis":{"x":"independent","y":"independent"}},"layer":[
{"data":{"name":"spec"},"mark":{"type":"line","color":"#2323ff","strokeWidth":1.4},"encoding":{
"x":{"field":"e","type":"quantitative","scale":{"domain":[0,5.38],"nice":false,"zero":false},"axis":{"values":[0,0.1,0.2,0.3,0.4,0.5,0.6,0.7,0.8,0.9,1,1.1,1.2,1.3,1.4,1.5,1.6,1.7,1.8,1.9,2,2.1,2.2,2.3,2.4,2.5,2.6,2.7,2.8,2.9,3,3.1,3.2,3.3,3.4,3.5,3.6,3.7,3.8,3.9,4,4.1,4.2,4.3,4.4,4.5,4.6,4.7,4.8,4.9,5,5.1,5.2,5.3],"labelExpr":"abs(datum.value-round(datum.value))<0.001 ? format(datum.value,'d') : ''","tickSize":{"condition":{"test":"abs(datum.value-round(datum.value))<0.001","value":7},"value":4},"tickColor":"#b4b4b4","domainColor":"#c8c8c8","labelOffset":-7,"labelPadding":1,"labelFont":"Liberation Sans","labelFontWeight":"bold","labelFontSize":17,"labelColor":"#000000","labelOverlap":false,"labelFlush":false,"title":"keV","titleX":1147,"titleY":-2,"titleAlign":"left","titleBaseline":"middle","titleAngle":0,"titleFont":"Liberation Sans","titleFontWeight":"bold","titleFontSize":16,"titleColor":"#000000"}},
"y":{"field":"cc8","type":"quantitative","scale":{"domain":[0,2390],"nice":false,"zero":false},"axis":{"values":[0,100,200,300,400,500,600,700,800,900,1000,1100,1200,1300,1400,1500,1600,1700,1800,1900,2000,2100,2200,2300],"format":"d","labelExpr":"datum.value % 500 == 0 ? datum.label : ''","tickSize":{"condition":{"test":"datum.value % 500 == 0","value":22},"value":10},"tickColor":"#b8b0b0","offset":3,"domain":false,"labelFont":"Liberation Sans","labelFontWeight":"bold","labelFontSize":17,"labelColor":"#000000","labelPadding":28,"labelOverlap":false,"title":"Intensity","titleFont":"Liberation Serif","titleFontSize":21,"titleFontWeight":"normal","titleColor":"#2a2222","titleX":-95}}}},
{"data":{"name":"boxes"},"transform":[{"filter":"datum.p=='CC8'"}],"mark":{"type":"rect","color":"#00edf3"},"encoding":{"x":{"field":"e1","type":"quantitative","scale":{"domain":[0,5.38],"nice":false,"zero":false},"axis":null},"x2":{"field":"e2"},"y":{"field":"v1","type":"quantitative","scale":{"domain":[0,2390],"nice":false,"zero":false},"axis":null},"y2":{"field":"v2"}}},
{"data":{"name":"boxes"},"transform":[{"filter":"datum.p=='CC8'"}],"mark":{"type":"text","font":"Lato","fontSize":16,"color":"#111111"},"encoding":{"x":{"field":"em","type":"quantitative","scale":{"domain":[0,5.38],"nice":false,"zero":false},"axis":null},"y":{"field":"vm","type":"quantitative","scale":{"domain":[0,2390],"nice":false,"zero":false},"axis":null},"text":{"field":"p"}}},
{"data":{"name":"lines"},"transform":[{"filter":"datum.p=='CC8'"}],"mark":{"type":"rule","color":"#ff0000","strokeWidth":2},"encoding":{"x":{"field":"e1","type":"quantitative","scale":{"domain":[0,5.38],"nice":false,"zero":false},"axis":null},"x2":{"field":"e2"},"y":{"field":"v","type":"quantitative","scale":{"domain":[0,2390],"nice":false,"zero":false},"axis":null}}},
{"data":{"name":"tab"},"transform":[{"filter":"datum.p=='CC8' && datum.k!='n'"}],"mark":{"type":"text","font":"Lato","fontWeight":"bold","fontSize":21,"color":"#ff0000"},"encoding":{"x":{"field":"e","type":"quantitative","scale":{"domain":[0,5.38],"nice":false,"zero":false},"axis":null},"y":{"field":"v","type":"quantitative","scale":{"domain":[0,2390],"nice":false,"zero":false},"axis":null},"text":{"field":"t"}}},
{"data":{"name":"tab"},"transform":[{"filter":"datum.p=='CC8' && datum.k=='n'"}],"mark":{"type":"text","font":"Lato","fontSize":22,"color":"#2525ff"},"encoding":{"x":{"field":"e","type":"quantitative","scale":{"domain":[0,5.38],"nice":false,"zero":false},"axis":null},"y":{"field":"v","type":"quantitative","scale":{"domain":[0,2390],"nice":false,"zero":false},"axis":null},"text":{"field":"t"}}},
{"data":{"name":"pk"},"transform":[{"filter":"datum.p=='CC8'"}],"mark":{"type":"text","font":"Lato","fontWeight":"bold","fontSize":21,"color":"#000000"},"encoding":{"x":{"field":"e","type":"quantitative","scale":{"domain":[0,5.38],"nice":false,"zero":false},"axis":null},"y":{"field":"v","type":"quantitative","scale":{"domain":[0,2390],"nice":false,"zero":false},"axis":null},"text":{"field":"t"}}}
]}
]
}
